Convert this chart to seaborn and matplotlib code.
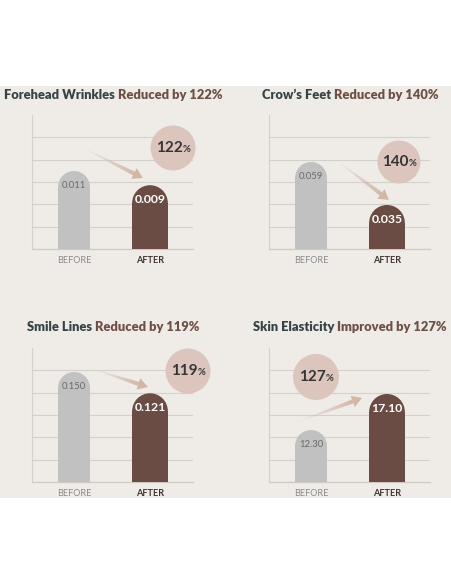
import numpy as np
import pandas as pd
import matplotlib
matplotlib.use("Agg")
import matplotlib.pyplot as plt
import seaborn as sns
from matplotlib.patches import Ellipse, Rectangle, Polygon
from matplotlib.collections import LineCollection

# ---------------- data ----------------
metric_names = ["Forehead Wrinkles", "Crow\u2019s Feet", "Smile Lines", "Skin Elasticity"]
change_texts = ["Reduced by 122%", "Reduced by 140%", "Reduced by 119%", "Improved by 127%"]
categories = ["BEFORE", "AFTER"]
before_values = [0.011, 0.059, 0.150, 12.30]
after_values = [0.009, 0.035, 0.121, 17.10]
before_labels = ["0.011", "0.059", "0.150", "12.30"]
after_labels = ["0.009", "0.035", "0.121", "17.10"]
change_pct = ["122", "140", "119", "127"]

# ---------------- style ----------------
W, H = 452, 584
BG = "#efece8"
GRAY = "#c1c1c1"
BROWN = "#6b4c44"
CIRCLE = "#dcc5bd"
ARROW = "#d2b7a7"
GRID = "#d4d0cb"
DARK = "#374444"
CHANGE = "#6e4f46"
FONT = "Lato"

sns.set_theme(style="white")
plt.rcParams["font.family"] = [FONT, "DejaVu Sans"]

# axes rectangles in pixels: (left, top, width, height)
axes_px = [(32, 115, 161, 134), (269, 115, 161, 134),
           (32, 348, 161, 134), (269, 348, 161, 134)]
y_limits = [(0, 0.0189), (0.01044, 0.0852), (0, 0.1827), (5.37, 23.23)]
x_limits = (-0.553, 1.566)
title_centers = [(113, 95), (350, 95), (113, 327), (350, 327)]
# decorations in axes fraction
circle_pos = [(0.876, 0.754, 22.5), (0.807, 0.649, 21.5), (0.969, 0.828, 22.5), (0.292, 0.784, 23)]
arrow_pos = [((0.317, 0.754), (0.689, 0.530)), ((0.416, 0.664), (0.745, 0.366)),
             ((0.379, 0.843), (0.720, 0.709)), ((0.174, 0.448), (0.578, 0.627))]

fig = plt.figure(figsize=(W / 100, H / 100), dpi=100)
fig.patch.set_facecolor("white")
fig.add_artist(Rectangle((0, 1 - 498 / H), 1, (498 - 86) / H, transform=fig.transFigure,
                         facecolor=BG, edgecolor="none", zorder=-10))
renderer = fig.canvas.get_renderer()


def text_width(t):
    return t.get_window_extent(renderer).width


def two_tone_title(cx, cy, p1, p2):
    xf, yf = cx / W, 1 - cy / H
    kw = dict(fontsize=9.3, fontweight="heavy", va="center")
    full = fig.text(0, 0, p1 + " " + p2, **kw)
    total = text_width(full)
    full.remove()
    fig.text(xf - total / 2 / W, yf, p1, ha="left", color=DARK, **kw)
    fig.text(xf + total / 2 / W, yf, p2, ha="right", color=CHANGE, **kw)


for i in range(4):
    l, t, aw, ah = axes_px[i]
    ax = fig.add_axes([l / W, 1 - (t + ah) / H, aw / W, ah / H])
    ax.set_facecolor("none")
    df = pd.DataFrame({"phase": categories, "value": [before_values[i], after_values[i]]})
    sns.barplot(data=df, x="phase", y="value", hue="phase", palette=[GRAY, BROWN],
                width=0.42, saturation=1, legend=False, ax=ax, zorder=3)
    y0, y1 = y_limits[i]
    ax.set_xlim(*x_limits)
    ax.set_ylim(y0, y1)
    pxx = aw / (x_limits[1] - x_limits[0])
    pxy = ah / (y1 - y0)

    bars = sorted([p for p in ax.patches if isinstance(p, Rectangle)], key=lambda p: p.get_x())
    for j, p in enumerate(bars):
        w = p.get_width()
        cx = p.get_x() + w / 2
        if j == 1:
            w = 0.47
            p.set_x(cx - w / 2)
            p.set_width(w)
        h = p.get_y() + p.get_height()
        ry = (w / 2) * pxx / pxy
        p.set_height(h - ry - p.get_y())
        p.set_edgecolor("none")
        ax.add_patch(Ellipse((cx, h - ry), w, 2 * ry, facecolor=p.get_facecolor(),
                             edgecolor="none", zorder=3))
        if j == 0:
            ax.annotate(before_labels[i], (cx, h), xytext=(0, -10.5), textcoords="offset points",
                        ha="center", va="center", fontsize=6.8, color="#6a6a6a", zorder=5)
        else:
            ax.annotate(after_labels[i], (cx, h), xytext=(0, -10.5), textcoords="offset points",
                        ha="center", va="center", fontsize=8.8, fontweight="bold",
                        color="white", zorder=5)

    ax.set_yticks(np.linspace(y0, y1, 7)[:-1])
    ax.yaxis.grid(True, color=GRID, lw=0.8)
    ax.xaxis.grid(False)
    ax.set_axisbelow(True)
    ax.tick_params(axis="y", length=0, labelleft=False)
    ax.tick_params(axis="x", length=0, pad=5)
    ax.set_xticks([0, 1])
    ax.set_xticklabels(categories)
    tl = ax.get_xticklabels()
    tl[0].set_fontsize(6.6)
    tl[0].set_color("#8a8a8a")
    tl[1].set_fontsize(6.6)
    tl[1].set_fontweight("bold")
    tl[1].set_color("#3e3434")
    ax.set_xlabel("")
    ax.set_ylabel("")
    for s in ["top", "right"]:
        ax.spines[s].set_visible(False)
    ax.spines["left"].set_color(GRID)
    ax.spines["left"].set_linewidth(0.8)
    ax.spines["bottom"].set_color("#cfcac4")
    ax.spines["bottom"].set_linewidth(0.9)

    # arrow with gradient shaft
    (sx, sy), (ex, ey) = arrow_pos[i]
    s_px = np.array([sx * aw, sy * ah])
    e_px = np.array([ex * aw, ey * ah])
    d = e_px - s_px
    L = np.hypot(*d)
    u = d / L
    perp = np.array([-u[1], u[0]])
    head_len, head_hw = 10, 6
    base = e_px - u * head_len
    n = 40
    pts = np.linspace(0, 1, n + 1)
    segs = []
    for k in range(n):
        a = s_px + (base - s_px) * pts[k]
        b = s_px + (base - s_px) * pts[k + 1] + u * 0.5
        segs.append([(a[0] / aw, a[1] / ah), (b[0] / aw, b[1] / ah)])
    frac = (pts[:-1] + pts[1:]) / 2
    cols = [matplotlib.colors.to_rgba(ARROW, 0.03 + 0.9 * f ** 1.3) for f in frac]
    lws = 0.4 + 2.6 * frac
    lc = LineCollection(segs, colors=cols, linewidths=lws, transform=ax.transAxes,
                        zorder=4, clip_on=False, capstyle="butt")
    ax.add_collection(lc)
    tri = [e_px, base + perp * head_hw, base - perp * head_hw]
    tri = [(q[0] / aw, q[1] / ah) for q in tri]
    ax.add_patch(Polygon(tri, closed=True, facecolor=ARROW, edgecolor="none",
                         transform=ax.transAxes, zorder=4, clip_on=False))

    # circle with percentage
    ccx, ccy, r = circle_pos[i]
    ax.add_patch(Ellipse((ccx, ccy), 2 * r / aw, 2 * r / ah, facecolor=CIRCLE, edgecolor="none",
                         transform=ax.transAxes, zorder=6, clip_on=False))
    fx = (l + ccx * aw) / W
    fy = 1 - (t + ah - ccy * ah) / H
    tn = fig.text(0, 0, change_pct[i], fontsize=11, fontweight="bold")
    tp = fig.text(0, 0, "%", fontsize=6.8, fontweight="bold")
    wn, wp = text_width(tn), text_width(tp)
    left = fx - (wn + wp) / 2 / W
    tn.set_position((left, fy))
    tn.set_va("center")
    tn.set_color("#353535")
    tn.set_zorder(7)
    tp.set_position((left + wn / W, fy - 1.2 / H))
    tp.set_va("center")
    tp.set_color("#353535")
    tp.set_zorder(7)

    two_tone_title(*title_centers[i], metric_names[i], change_texts[i])

fig.savefig("out.png", dpi=100, facecolor="white")
